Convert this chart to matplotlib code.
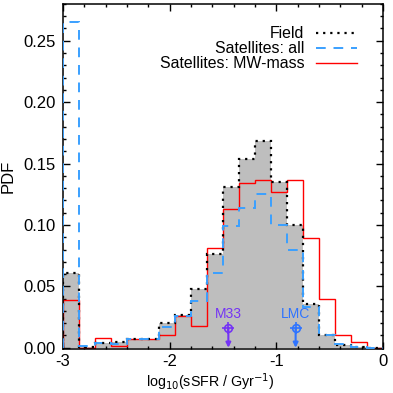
import matplotlib
matplotlib.use("Agg")
import matplotlib.pyplot as plt
from matplotlib.ticker import MultipleLocator, FormatStrFormatter

plt.rcParams['font.family'] = ['Liberation Sans', 'DejaVu Sans']
plt.rcParams['axes.unicode_minus'] = False

# bin edges in log10(sSFR / Gyr^-1)
edges = [-3.0, -2.85, -2.7, -2.55, -2.4, -2.25, -2.1, -1.95, -1.8, -1.65, -1.5,
         -1.35, -1.2, -1.05, -0.9, -0.75, -0.6, -0.45, -0.3, -0.15, 0.0]

field = [0.061, 0.001, 0.004, 0.005, 0.007, 0.007, 0.020, 0.027, 0.048, 0.076,
         0.131, 0.154, 0.168, 0.135, 0.100, 0.036, 0.0104, 0.0023, 0.001, 0.0]
sat_all = [0.265, 0.0015, 0.004, 0.003, 0.007, 0.007, 0.0167, 0.026, 0.038, 0.061,
           0.099, 0.114, 0.125, 0.100, 0.080, 0.0335, 0.0104, 0.003, 0.001, 0.0]
sat_mw = [0.039, 0.0, 0.0077, 0.0017, 0.007, 0.007, 0.0104, 0.026, 0.0178, 0.081,
          0.113, 0.134, 0.137, 0.127, 0.137, 0.089, 0.040, 0.010, 0.005, 0.0]

# observed galaxies
obs_names = ['M33', 'LMC']
obs_ssfr = [-1.45, -0.82]
obs_pdf = [0.0164, 0.0164]
obs_colors = ['#7433f5', '#2f74ff']

fig = plt.figure(figsize=(3.93, 3.93), dpi=100)
ax = fig.add_axes([0.160, 0.112, 0.815, 0.878])

ax.stairs(field, edges, fill=True, color='#bebebe', zorder=1)
ax.stairs(field, edges, color='black', linestyle=(0, (1, 2.2)), lw=1.6, zorder=3,
          label='Field')
ax.stairs(sat_all, edges, color='#3aa0ff', linestyle=(0, (5, 4)), lw=1.4, zorder=4,
          label='Satellites: all')
ax.stairs(sat_mw, edges, color='#ff0000', lw=1.0, zorder=2,
          label='Satellites: MW-mass')

for name, xv, yv, c in zip(obs_names, obs_ssfr, obs_pdf, obs_colors):
    ax.annotate('', xy=(xv, 0.0), xytext=(xv, yv), zorder=6,
                arrowprops=dict(arrowstyle='-|>', color=c, lw=1.5,
                                mutation_scale=7, shrinkA=0, shrinkB=0))
    ax.plot([xv], [yv], marker='o', ms=5.5, mfc='none', mec=c, mew=1.2, zorder=7)
    ax.plot([xv], [yv], marker='+', ms=8, mec=c, mew=1.2, zorder=7)
    ax.text(xv, yv + 0.0055, name, color=c, ha='center', va='bottom',
            fontsize=10, zorder=7)

ax.set_xlim(-3, 0)
ax.set_ylim(-0.001, 0.28)
ax.xaxis.set_major_locator(MultipleLocator(1))
ax.xaxis.set_minor_locator(MultipleLocator(0.2))
ax.yaxis.set_major_locator(MultipleLocator(0.05))
ax.yaxis.set_minor_locator(MultipleLocator(0.01))
ax.yaxis.set_major_formatter(FormatStrFormatter('%.2f'))
ax.tick_params(which='both', direction='in', top=True, right=True,
               labelsize=12, colors='black')
ax.tick_params(which='major', length=5, width=1.0)
ax.tick_params(axis='x', which='major', pad=3.5)
ax.tick_params(axis='y', which='major', pad=5)
ax.tick_params(which='minor', length=2.5, width=1.0)
for s in ax.spines.values():
    s.set_linewidth(1.1)

ax.set_xlabel('log$_{10}$(sSFR / Gyr$^{-1}$)', fontsize=10.3)
ax.xaxis.set_label_coords(0.46, -0.065)
ax.set_ylabel('PDF', fontsize=12, labelpad=6)

leg = ax.legend(loc='upper right', bbox_to_anchor=(0.919, 0.935), frameon=False,
                markerfirst=False, fontsize=11.4, handlelength=2.6,
                handletextpad=0.75, labelspacing=0.0, borderpad=0.0,
                borderaxespad=0.0)
# right-align the legend entries
leg._legend_box._children[-1]._children[0].align = 'right'

fig.savefig('out.png', dpi=100)
